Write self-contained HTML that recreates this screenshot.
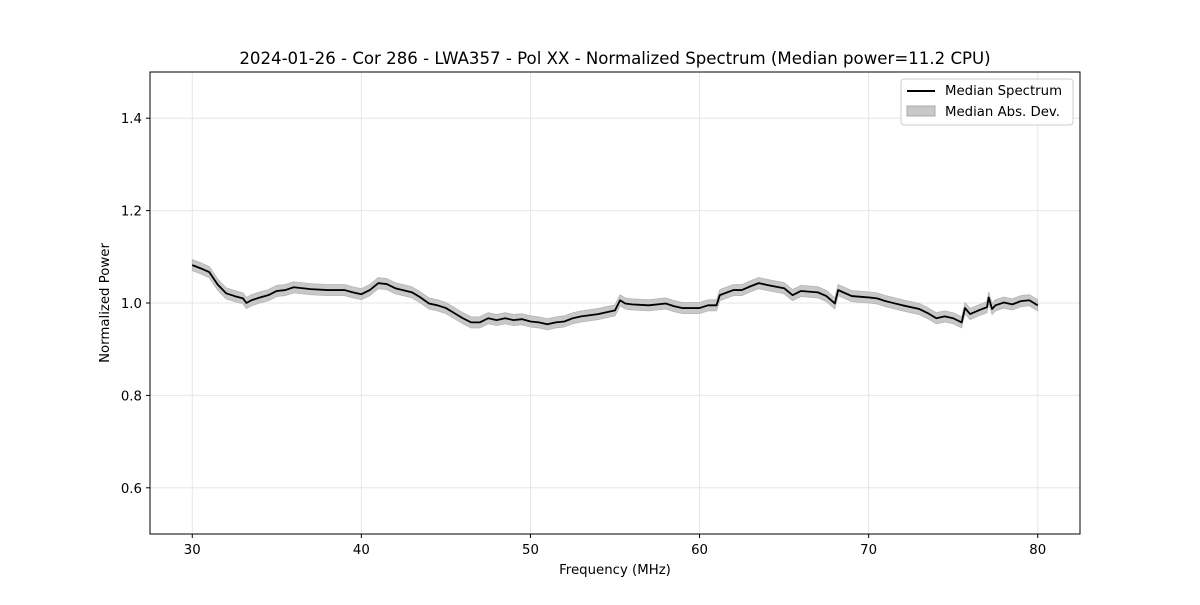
<!DOCTYPE html>
<html><head><meta charset="utf-8"><style>
body{margin:0;background:#fff;}
svg text{font-family:"DejaVu Sans","Liberation Sans",sans-serif;}
</style></head><body>
<svg id="chart" width="1200" height="600" xmlns="http://www.w3.org/2000/svg">
<rect width="1200" height="600" fill="#fff"/>
<text x="615" y="64" text-anchor="middle" font-size="16.6">2024-01-26 - Cor 286 - LWA357 - Pol XX - Normalized Spectrum (Median power=11.2 CPU)</text>
<g id="grid"></g>
<g id="band"></g>
<g id="line"></g>
<rect x="150" y="72" width="930" height="462" fill="none" stroke="#000" stroke-width="1"/>
<g id="ticks"></g>
<text x="615" y="574" text-anchor="middle" font-size="13.3">Frequency (MHz)</text>
<text transform="translate(109,303) rotate(-90)" text-anchor="middle" font-size="13.3">Normalized Power</text>
<g>
<rect x="901" y="79" width="172" height="46" fill="#fff" stroke="#ccc" rx="3"/>
<line x1="907" y1="91" x2="935" y2="91" stroke="#000" stroke-width="2"/>
<text x="945" y="95" font-size="13.3">Median Spectrum</text>
<rect x="907" y="106" width="28" height="10" fill="#c8c8c8" stroke="#aaa"/>
<text x="945" y="116" font-size="13.3">Median Abs. Dev.</text>
</g>
</svg>
<script>
const freqs=[30,30.5,31,31.5,32,32.5,33,33.2,33.5,34,34.5,35,35.5,36,37,38,39,39.5,40,40.5,41,41.5,42,43,43.5,44,44.5,45,45.5,46,46.5,47,47.5,48,48.5,49,49.5,50,50.5,51,51.5,52,52.5,53,54,54.5,55,55.3,55.6,56,57,58,58.5,59,60,60.5,61,61.2,62,62.5,63,63.5,64,65,65.5,66,67,67.5,68,68.2,68.5,69,70,70.5,71,72,73,73.5,74,74.5,75,75.5,75.7,76,76.5,77,77.1,77.3,77.5,78,78.5,79,79.5,80];
const medians=[1.082,1.075,1.067,1.04,1.021,1.015,1.01,1.0,1.006,1.012,1.017,1.026,1.028,1.034,1.03,1.028,1.028,1.023,1.019,1.028,1.043,1.041,1.032,1.023,1.012,0.999,0.995,0.989,0.978,0.967,0.958,0.958,0.967,0.963,0.967,0.963,0.965,0.96,0.958,0.954,0.958,0.96,0.967,0.971,0.976,0.98,0.984,1.006,0.999,0.997,0.995,0.999,0.993,0.989,0.989,0.995,0.995,1.017,1.028,1.028,1.036,1.043,1.039,1.032,1.017,1.026,1.023,1.015,0.999,1.028,1.023,1.015,1.012,1.01,1.004,0.995,0.987,0.978,0.967,0.971,0.967,0.958,0.989,0.976,0.984,0.991,1.012,0.987,0.995,1.001,0.997,1.004,1.006,0.995];
const mad=0.012;
const xTicks=[30,40,50,60,70,80];
const yTicks=[0.6,0.8,1.0,1.2,1.4];
const NS="http://www.w3.org/2000/svg";
const X=f=>150+(f-27.5)/55*930;
const Y=v=>534-(v-0.5)*462;
function mk(tag,attrs,parent){const e=document.createElementNS(NS,tag);for(const k in attrs)e.setAttribute(k,attrs[k]);parent.appendChild(e);return e;}
const grid=document.getElementById('grid'),ticks=document.getElementById('ticks');
xTicks.forEach(t=>{
 const g=mk('line',{x1:X(t),x2:X(t),y1:72,y2:534,stroke:'#e6e6e6'},grid);
 
 
 mk('line',{x1:X(t),x2:X(t),y1:534,y2:538,stroke:'#000'},ticks);
 const tx=mk('text',{x:X(t),y:554,'text-anchor':'middle','font-size':'13.3'},ticks);
 tx.textContent=t;
 
 
});
yTicks.forEach(t=>{
 const g=mk('line',{x1:150,x2:1080,y1:Y(t),y2:Y(t),stroke:'#e6e6e6'},grid);
 
 
 mk('line',{x1:146,x2:150,y1:Y(t),y2:Y(t),stroke:'#000'},ticks);
 const tx=mk('text',{x:142,y:Y(t)+5,'text-anchor':'end','font-size':'13.3'},ticks);
 tx.textContent=t.toFixed(1);
 
 
});
let up=freqs.map((f,i)=>X(f)+','+Y(medians[i]+mad));
let dn=freqs.map((f,i)=>X(f)+','+Y(medians[i]-mad)).reverse();
const band=mk('polygon',{points:up.concat(dn).join(' '),fill:'#c8c8c8',stroke:'#b5b5b5','stroke-width':'0.8'},document.getElementById('band'));


const line=mk('polyline',{points:freqs.map((f,i)=>X(f)+','+Y(medians[i])).join(' '),fill:'none',stroke:'#000','stroke-width':'1.8','stroke-linejoin':'round'},document.getElementById('line'));


</script>
</body></html>
